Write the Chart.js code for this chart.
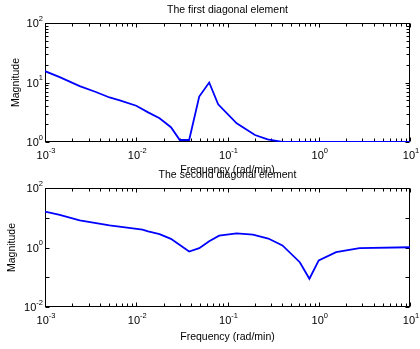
<!DOCTYPE html>
<html>
<head>
<meta charset="utf-8">
<script src="https://cdn.jsdelivr.net/npm/chart.js@4.4.0/dist/chart.umd.min.js"></script>
<style>
    html, body { margin: 0; padding: 0; background: #fff; }
    #wrap { position: relative; width: 420px; height: 349px; overflow: hidden; }
    canvas { position: absolute; left: 0; }
    #c1 { top: 0; }
    #c2 { top: 163px; }
</style>
</head>
<body>
<div id="wrap">
    <canvas id="c1" width="420" height="176"></canvas>
    <canvas id="c2" width="420" height="186"></canvas>
</div>
<script>
// données
const freq1 = [0.001, 0.00145, 0.0024, 0.00355, 0.0051, 0.0066, 0.01, 0.0135, 0.018, 0.024, 0.030, 0.038, 0.049, 0.063, 0.079, 0.126, 0.2, 0.275, 0.4, 10];
const mag1  = [15.5, 12.3, 8.7, 7.0, 5.6, 5.0, 4.07, 3.15, 2.5, 1.77, 1.08, 1.08, 5.8, 10, 4.3, 2.06, 1.31, 1.11, 1.0, 1.0];

const freq2 = [0.001, 0.00145, 0.0024, 0.0051, 0.0117, 0.0135, 0.018, 0.024, 0.038, 0.049, 0.063, 0.081, 0.126, 0.19, 0.28, 0.4, 0.62, 0.79, 1.0, 1.55, 2.8, 10];
const mag2  = [16.2, 12.6, 8.1, 5.5, 4.0, 3.5, 2.8, 1.96, 0.73, 0.95, 1.63, 2.5, 3.0, 2.7, 2.0, 1.17, 0.32, 0.089, 0.37, 0.70, 0.95, 1.02];

// ticks (exposants des décades)
const xTickExp = [-3, -2, -1, 0, 1];
const yTickExp1 = [0, 1, 2];
const yTickExp2 = [-2, -1, 0, 1, 2];
const yLabelExp2 = [-2, 0, 2];

const titles = ["The first diagonal element", "The second diagonal element"];
const xTitle = "Frequency (rad/min)";
const yTitle = "Magnitude";

const FONT = "'Liberation Sans', Arial, sans-serif";
Chart.defaults.color = "#000";
Chart.defaults.font.family = FONT;

// "10" + exposant en petit, surélevé (comme MATLAB)
function drawPow(ctx, e, x, base, align) {
    const exp = String(e);
    ctx.font = "11px " + FONT;
    const w1 = ctx.measureText("10").width;
    ctx.font = "7.5px " + FONT;
    const w2 = ctx.measureText(exp).width;
    const total = w1 + w2;
    let x0 = align === "right" ? x - total : x - total / 2;
    ctx.textAlign = "left";
    ctx.textBaseline = "alphabetic";
    ctx.font = "11px " + FONT;
    ctx.fillText("10", x0, base);
    ctx.font = "7.5px " + FONT;
    ctx.fillText(exp, x0 + w1, base - 6.5);
}

// === cadre + graduations vers l'intérieur + libellés ===
const frameTicks = {
    id: "frameTicks",
    beforeDatasetsDraw(chart, args, opts) {
        const { ctx, chartArea: a, scales: { x, y } } = chart;
        const L = Math.round(a.left) + 0.5, R = Math.round(a.right) - 0.5;
        const T = Math.round(a.top) + 0.5, B = Math.round(a.bottom) - 0.5;
        ctx.save();
        ctx.strokeStyle = "#000";
        ctx.lineWidth = 1;
        ctx.strokeRect(L, T, R - L, B - T);
        ctx.beginPath();
        const vals = (sc, minor) => {
            const out = [];
            const d0 = Math.floor(Math.log10(sc.min)), d1 = Math.ceil(Math.log10(sc.max));
            for (let d = d0; d <= d1; d++) {
                out.push([Math.pow(10, d), 4]);
                if (minor) for (let k = 2; k <= 9; k++) out.push([k * Math.pow(10, d), 3]);
            }
            return out.filter(v => v[0] >= sc.min * 0.999 && v[0] <= sc.max * 1.001);
        };
        vals(x, true).forEach(([v, len]) => {
            const px = Math.round(x.getPixelForValue(v)) + 0.5;
            ctx.moveTo(px, B); ctx.lineTo(px, B - len);
            ctx.moveTo(px, T); ctx.lineTo(px, T + len);
        });
        vals(y, opts.yMinor).forEach(([v, len]) => {
            const py = Math.round(y.getPixelForValue(v)) + 0.5;
            ctx.moveTo(L, py); ctx.lineTo(L + len, py);
            ctx.moveTo(R, py); ctx.lineTo(R - len, py);
        });
        ctx.stroke();
        ctx.restore();
    },
    afterDraw(chart, args, opts) {
        const { ctx, chartArea: a, scales: { x, y } } = chart;
        ctx.save();
        ctx.fillStyle = "#000";
        x.ticks.forEach(t => {
            const e = Math.round(Math.log10(t.value));
            drawPow(ctx, e, x.getPixelForValue(t.value) + 1, a.bottom + 17, "center");
        });
        y.ticks.forEach(t => {
            const e = Math.round(Math.log10(t.value));
            if (opts.yLab.includes(e)) drawPow(ctx, e, a.left - 2, y.getPixelForValue(t.value) + 4, "right");
        });
        ctx.restore();
    }
};

function makeChart(id, freq, mag, o) {
    return new Chart(document.getElementById(id), {
        type: "line",
        data: {
            datasets: [{
                data: freq.map((f, i) => ({ x: f, y: mag[i] })),
                borderColor: "#0000ff",
                borderWidth: 1.8,
                pointRadius: 0,
                tension: 0
            }]
        },
        options: {
            responsive: false,
            animation: false,
            // zone du graphe : x 45 -> 410 ; le titre est centré sur les axes
            layout: { padding: { left: 45, right: 10, top: 0, bottom: 0 } },
            plugins: {
                legend: { display: false },
                tooltip: { enabled: false },
                title: {
                    display: true,
                    text: o.title,
                    font: { size: 10.5, weight: "normal" },
                    padding: o.titlePad
                },
                frameTicks: { yMinor: o.yMinor, yLab: o.yLab }
            },
            scales: {
                x: {
                    type: "logarithmic",
                    min: 1e-3, max: 10,
                    grid: { display: false, drawTicks: false },
                    border: { display: false },
                    afterBuildTicks: sc => { sc.ticks = xTickExp.map(e => ({ value: Math.pow(10, e) })); },
                    afterFit: sc => { sc.height = o.xHeight; },
                    ticks: { display: false },
                    title: { display: true, text: xTitle, font: { size: 10.5 }, padding: o.xTitlePad }
                },
                y: {
                    type: "logarithmic",
                    min: o.ymin, max: o.ymax,
                    grid: { display: false, drawTicks: false },
                    border: { display: false },
                    afterBuildTicks: sc => { sc.ticks = o.yExp.map(e => ({ value: Math.pow(10, e) })); },
                    afterFit: sc => { sc.width = 0; },
                    ticks: { display: false },
                    title: { display: true, text: yTitle, font: { size: 10.5 }, padding: { top: o.yTitleTop, bottom: 0 } }
                }
            }
        },
        plugins: [frameTicks]
    });
}

makeChart("c1", freq1, mag1, {
    title: titles[0],
    titlePad: { top: 3.7, bottom: 6.7 },
    xHeight: 34, xTitlePad: { top: 0, bottom: 0 },
    ymin: 1, ymax: 100, yExp: yTickExp1, yLab: yTickExp1,
    yTitleTop: -34.8, yMinor: true
});

makeChart("c2", freq2, mag2, {
    title: titles[1],
    titlePad: { top: 5.7, bottom: 6.7 },
    xHeight: 42, xTitlePad: { top: 0, bottom: 5.7 },
    ymin: 0.01, ymax: 100, yExp: yTickExp2, yLab: yLabelExp2,
    yTitleTop: -38.8, yMinor: false
});
</script>
</body>
</html>
